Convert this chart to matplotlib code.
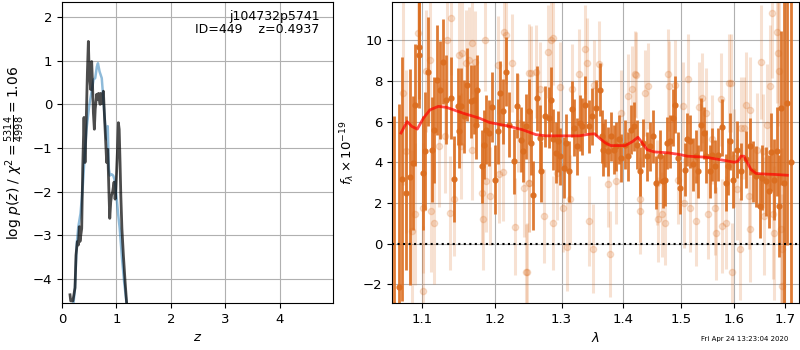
import matplotlib
matplotlib.use("Agg")
import matplotlib.pyplot as plt
import numpy as np

plt.rcParams['font.size'] = 9.5

# ---- p(z) panel ----
Z_FIT = [0.147, 0.16, 0.20, 0.239, 0.257, 0.282, 0.30, 0.318, 0.33, 0.362, 0.38, 0.404,
         0.423, 0.441, 0.466, 0.484, 0.50, 0.527, 0.545, 0.56, 0.576, 0.594, 0.61, 0.637,
         0.65, 0.67, 0.70, 0.71, 0.73, 0.76, 0.78, 0.80, 0.82, 0.84, 0.86, 0.877, 0.895,
         0.91, 0.93, 0.956, 0.975, 0.99, 1.017, 1.035, 1.05, 1.066, 1.08, 1.10, 1.127,
         1.158, 1.19, 1.21]
LNP_FIT = [-4.36, -4.5, -4.5, -4.2, -3.45, -3.14, -3.22, -2.80, -3.14, -2.84, -1.48, -0.30,
           -1.33, -0.57, 0.72, 1.44, 0.72, 0.34, 0.98, 0.48, -0.19, -0.57, -0.11, 0.23,
           0.11, 0.25, 0.0, 0.25, 0.02, 0.30, -0.27, -0.80, -1.33, -1.03, -1.93, -2.61, -2.23,
           -2.08, -2.0, -1.78, -2.17, -1.93, -1.10, -0.42, -0.57, -1.33, -2.08, -2.84, -3.45,
           -4.05, -4.6, -5.0]

Z_PRIOR = [0.20, 0.238, 0.27, 0.30, 0.34, 0.38, 0.42, 0.45, 0.50, 0.55, 0.58, 0.61, 0.64,
           0.66, 0.69, 0.73, 0.76, 0.79, 0.82, 0.84, 0.86, 0.88, 0.91, 0.94, 0.97, 1.0,
           1.03, 1.06, 1.10, 1.14, 1.19, 1.22]
LNP_PRIOR = [-4.7, -4.2, -3.2, -2.8, -2.5, -1.9, -1.1, -0.57, -0.03, 0.34, 0.57, 0.6, 0.86,
             0.94, 0.75, 0.6, 0.11, -0.42, -0.80, -0.5, -1.48, -1.63, -1.6, -1.63, -1.74,
             -2.1, -2.5, -2.84, -3.5, -4.05, -4.6, -5.0]

# ---- spectrum panel ----
# model
WAVE_MODEL = [1.072, 1.080, 1.0862, 1.0932, 1.1013, 1.110, 1.1213, 1.1323, 1.1546, 1.1777,
              1.192, 1.2208, 1.2405, 1.2605, 1.276, 1.3018, 1.328, 1.344, 1.3528, 1.360,
              1.3703, 1.3794, 1.4035, 1.4158, 1.425, 1.4313, 1.4407, 1.453, 1.4788, 1.4984,
              1.5117, 1.545, 1.572, 1.600, 1.607, 1.6125, 1.6185, 1.625, 1.632, 1.642,
              1.66, 1.68, 1.705]
FLUX_MODEL = [5.44, 6.0, 5.76, 5.63, 6.17, 6.58, 6.75, 6.7, 6.42, 6.17,
              5.96, 5.77, 5.6, 5.36, 5.3, 5.3, 5.3, 5.38, 5.4, 5.2,
              4.95, 4.82, 4.82, 5.02, 5.23, 5.0, 4.62, 4.51, 4.46, 4.38,
              4.30, 4.25, 4.13, 4.0, 4.05, 4.3, 4.3, 3.98, 3.65, 3.45,
              3.42, 3.40, 3.36]

# binned data (dark)
WAVE_BIN = [1.0625, 1.069, 1.0736, 1.079, 1.0833, 1.0877, 1.0906, 1.095, 1.096, 1.101,
            1.104, 1.108, 1.113, 1.116, 1.120, 1.124, 1.128, 1.131, 1.138, 1.143,
            1.148, 1.150, 1.152, 1.1565, 1.161, 1.166, 1.170, 1.173, 1.175, 1.181,
            1.1845, 1.187, 1.191, 1.196, 1.200, 1.2045, 1.208, 1.2115, 1.2165, 1.221,
            1.228, 1.233, 1.238, 1.2415, 1.2455, 1.2505, 1.2535, 1.2565, 1.2615, 1.2665,
            1.269, 1.275, 1.280, 1.2835, 1.2875, 1.2915, 1.295, 1.2975, 1.304, 1.307,
            1.3125, 1.3165, 1.319, 1.324, 1.3285, 1.332, 1.3375, 1.343, 1.348, 1.3555,
            1.361, 1.364, 1.3666, 1.3705, 1.3747, 1.380, 1.3844, 1.388, 1.3935, 1.397,
            1.403, 1.4075, 1.4135, 1.419, 1.424, 1.428, 1.434, 1.440, 1.4456, 1.4514,
            1.456, 1.463, 1.468, 1.4714, 1.4754, 1.481, 1.486, 1.4907, 1.495, 1.499,
            1.507, 1.511, 1.516, 1.522, 1.527, 1.5315, 1.5375, 1.542, 1.547, 1.553,
            1.558, 1.5625, 1.5685, 1.5765, 1.583, 1.587, 1.591, 1.5975, 1.605, 1.613,
            1.6215, 1.630, 1.6365, 1.643, 1.6496, 1.6545, 1.661, 1.6673, 1.672, 1.6785,
            1.684, 1.6888, 1.692, 1.698, 1.7045, 1.713]
FLUX_BIN = [-3.0, -2.15, 3.18, 2.50, 3.27, 3.97, 6.83, 9.69, 9.28, 3.48,
            4.54, 8.46, 4.62, 5.6, 8.05, 7.56, 8.95, 7.08, 7.16, 3.18,
            6.75, 5.52, 6.75, 6.26, 7.81, 7.0, 7.08, 5.85, 7.56, 3.81,
            4.87, 5.6, 5.44, 6.72, 3.15, 5.52, 7.4, 6.5, 8.46, 5.85,
            4.05, 6.78, 5.11, 4.54, 5.77, 6.5, 4.95, 2.37, 7.16, 5.2,
            3.56, 6.26, 6.18, 7.08, 5.12, 4.46, 5.04, 4.3, 3.73, 4.95,
            3.56, 6.62, 5.69, 4.79, 5.93, 5.77, 6.83, 5.77, 6.26, 6.67,
            7.56, 5.28, 4.62, 4.95, 4.54, 5.28, 4.62, 4.79, 5.12, 4.21,
            4.87, 4.30, 5.6, 5.77, 4.87, 3.56, 4.95, 4.3, 4.79, 5.28,
            2.99, 4.3, 3.07, 3.15, 4.95, 5.04, 6.18, 6.83, 4.21, 2.75,
            3.64, 5.12, 5.04, 3.89, 4.3, 3.56, 5.85, 5.44, 4.3, 3.56,
            4.38, 3.81, 4.38, 5.72, 2.99, 3.81, 5.04, 3.15, 4.62, 3.56,
            4.14, 4.79, 3.56, 3.31, 1.85, 3.23, 3.07, 2.58, 4.5, 3.15,
            4.54, 1.85, 6.67, 3.0, 6.92, 4.0]
ERR_BIN = [9.3, 9.0, 6.0, 3.8, 5.3, 3.3, 3.0, 2.6, 2.6, 2.8,
           2.9, 2.7, 2.6, 2.6, 2.7, 2.4, 2.1, 2.2, 2.0, 2.1,
           1.9, 1.8, 1.9, 1.8, 1.8, 1.8, 1.7, 1.7, 1.7, 1.8,
           1.7, 1.7, 1.6, 1.7, 1.7, 1.6, 1.6, 1.6, 1.7, 1.6,
           1.6, 1.6, 1.6, 1.5, 1.6, 1.6, 1.6, 1.7, 1.6, 1.6,
           1.5, 1.5, 1.5, 1.6, 1.5, 1.5, 1.5, 1.4, 1.5, 1.4,
           1.5, 1.4, 1.4, 1.4, 1.4, 1.4, 1.4, 1.3, 1.4, 1.4,
           1.3, 1.3, 1.3, 1.2, 1.2, 1.2, 1.2, 1.2, 1.2, 1.2,
           1.2, 1.2, 1.2, 1.2, 1.2, 1.2, 1.2, 1.2, 1.2, 1.3,
           1.3, 1.3, 1.3, 1.3, 1.3, 1.3, 1.4, 1.4, 1.3, 1.3,
           1.3, 1.3, 1.3, 1.3, 1.3, 1.3, 1.3, 1.3, 1.3, 1.3,
           1.3, 1.3, 1.3, 1.4, 1.4, 1.4, 1.4, 1.4, 1.4, 1.4,
           1.4, 1.4, 1.5, 1.5, 1.6, 1.6, 1.7, 1.8, 1.9, 2.0,
           2.2, 2.5, 3.8, 12.0, 7.0, 12.0]

# unbinned data (light)
WAVE_RAW = [1.075, 1.079, 1.0864, 1.0906, 1.0936, 1.1005, 1.101, 1.105, 1.110, 1.1117,
            1.116, 1.122, 1.130, 1.133, 1.138, 1.1375, 1.143, 1.150, 1.152,
            1.154, 1.159, 1.1635, 1.167, 1.168, 1.172, 1.182, 1.183, 1.1857, 1.1875,
            1.1935, 1.2045, 1.2066, 1.2115, 1.213, 1.2165, 1.2255, 1.2296, 1.2345, 1.243,
            1.2455, 1.2505, 1.2495,
            1.2475, 1.25, 1.2535, 1.26, 1.2675, 1.2725, 1.2786, 1.2835, 1.2865, 1.2866,
            1.2935, 1.2975, 1.3016, 1.309, 1.3134, 1.316, 1.327, 1.3375, 1.340, 1.343,
            1.3495, 1.351,
            1.3597, 1.3747, 1.3775, 1.388, 1.3963, 1.4075, 1.4146, 1.4193, 1.422, 1.428,
            1.4286, 1.4368, 1.4426, 1.4574, 1.460, 1.466, 1.472,
            1.477, 1.479, 1.489, 1.495, 1.5037, 1.5068, 1.513, 1.517, 1.528, 1.5333,
            1.5395, 1.547, 1.550, 1.558, 1.564, 1.5654, 1.5746, 1.5765, 1.584, 1.590, 1.596,
            1.5926, 1.600, 1.605, 1.610, 1.6125, 1.619, 1.623, 1.630, 1.628, 1.631,
            1.6445, 1.6524, 1.6563, 1.6575, 1.6642, 1.6693, 1.674, 1.676, 1.6785, 1.684,
            1.687, 1.689, 1.6915, 1.6935, 1.6936]
FLUX_RAW = [7.4, 4.54, 0.62, 1.44, 10.34, 1.76, -2.35, 8.51, 9.04, 1.6,
            1.03, 4.79, 5.28, 10.0, 11.08, 1.52, 2.17, 9.28, 4.79,
            9.36, 8.87, 9.04, 9.85, 4.62, 8.95, 2.5, 1.19, 10.0, 3.07,
            2.34, 8.79, 3.4, 3.51, 10.42, 10.26, 8.87, 0.83, 5.93, 2.74,
            -1.42, 8.38, 2.99,
            -1.39, 2.99, 8.41, 8.46, 7.6, 1.36, 9.44, 10.02, 10.1, 1.0,
            3.48, 7.7, 1.76, -0.15, 2.17, 7.6, 8.35, 9.56, 8.9, 1.11,
            -0.25, 7.81,
            8.84, 2.91, -0.52, 3.07, 6.42, 7.24, 7.6, 8.35, 8.3, 1.6,
            2.17, 7.4, 7.76, 2.99, 1.19, 1.44, 1.03,
            8.35, 7.76, 7.81, 3.15, 6.75, 2.0, 8.09, 1.76, 1.11, 6.72,
            7.16, 6.42, 1.44, 5.12, 1.76, 0.5, 7.1, 0.87, 1.03, 7.89, -1.39,
            7.89, 4.22, 2.66, -0.28, 5.69, 5.69, 6.83, 6.58, 2.34, 0.7,
            4.62, 8.95, 4.54, 1.36, 5.85, 7.76, 11.36, 1.44, 0.54, 10.4,
            9.36, 8.51, 0.7, -2.07, -0.28]
ERR_RAW = [4.5, 4.0, 4.0, 3.5, 3.5, 3.2, 3.2, 3.0, 3.0, 3.0,
           3.0, 3.0, 2.8, 2.8, 2.8, 2.8, 2.8, 2.6, 2.6,
           2.6, 2.6, 2.6, 2.5, 2.5, 2.5, 2.5, 2.5, 2.5, 2.5,
           2.4, 2.4, 2.4, 2.4, 2.4, 2.4, 2.4, 2.4, 2.4, 2.4,
           2.4, 2.4, 2.4,
           2.4, 2.4, 2.3, 2.3, 2.3, 2.3, 2.3, 2.3, 2.3, 2.3,
           2.3, 2.2, 2.2, 2.2, 2.2, 2.2, 2.2, 2.2, 2.2, 2.2,
           2.2, 2.2,
           2.1, 2.1, 2.1, 2.1, 2.1, 2.1, 2.1, 2.1, 2.1, 2.1,
           2.1, 2.1, 2.1, 2.1, 2.1, 2.1, 2.1,
           2.2, 2.2, 2.2, 2.2, 2.2, 2.2, 2.2, 2.2, 2.2, 2.2,
           2.2, 2.2, 2.2, 2.2, 2.3, 2.3, 2.3, 2.3, 2.3, 2.4, 2.4,
           2.4, 2.4, 2.5, 2.5, 2.5, 2.5, 2.6, 2.6, 2.6, 2.6,
           2.8, 2.8, 2.8, 2.9, 3.0, 3.0, 3.2, 3.2, 3.3, 3.5,
           3.6, 3.8, 4.0, 4.5, 5.0]

LAM_TICKS = [1.1, 1.2, 1.3, 1.4, 1.5, 1.6, 1.7]
ORANGE = '#db6d1f'

fig = plt.figure(figsize=(8, 3.5), dpi=100)
ax1 = fig.add_axes([0.0775, 0.134, 0.339, 0.86])
ax2 = fig.add_axes([0.49, 0.134, 0.509, 0.86])

# p(z)
ax1.plot(Z_PRIOR, LNP_PRIOR, color='tab:blue', alpha=0.5, lw=1.8)
ax1.plot(Z_FIT, LNP_FIT, color='k', alpha=0.7, lw=2)
ax1.set_xlim(0, 4.98)
ax1.set_ylim(-4.55, 2.34)
ax1.set_xticks([0, 1, 2, 3, 4])
ax1.set_yticks([-4, -3, -2, -1, 0, 1, 2])
ax1.set_xlabel('$z$')
ax1.set_ylabel(r'$\log\,p(z)$ / $\chi^2=\frac{5314}{4998}=1.06$', fontsize=10)
ax1.grid()
ax1.text(0.95, 0.975, 'j104732p5741\nID=449    z=0.4937', transform=ax1.transAxes,
         ha='right', va='top', fontsize=9, linespacing=1.05)

# spectrum
ax2.errorbar(WAVE_RAW, FLUX_RAW, yerr=ERR_RAW, color=ORANGE, alpha=0.2, marker='o',
             ms=4.5, linestyle='None', elinewidth=2.2)
ax2.errorbar(WAVE_BIN, FLUX_BIN, yerr=ERR_BIN, color=ORANGE, alpha=0.9, marker='o',
             ms=3.5, linestyle='None', elinewidth=2)
ax2.plot(WAVE_MODEL, FLUX_MODEL, color='r', alpha=0.7, lw=2, zorder=10)
ax2.axhline(0, color='k', ls=':', lw=1.5, zorder=11)
ax2.set_xscale('log')
ax2.set_xlim(1.0605, 1.7295)
ax2.set_ylim(-2.93, 11.88)
ax2.set_xticks(LAM_TICKS)
ax2.set_xticklabels([str(t) for t in LAM_TICKS])
ax2.xaxis.set_minor_locator(matplotlib.ticker.NullLocator())
ax2.set_yticks([-2, 0, 2, 4, 6, 8, 10])
ax2.set_xlabel(r'$\lambda$')
ax2.set_ylabel(r'$f_\lambda \times 10^{-19}$')
ax2.grid()

fig.text(0.985, 0.031, 'Fri Apr 24 13:23:04 2020', ha='right', va='center', fontsize=5)

fig.savefig('out.png', dpi=100)
